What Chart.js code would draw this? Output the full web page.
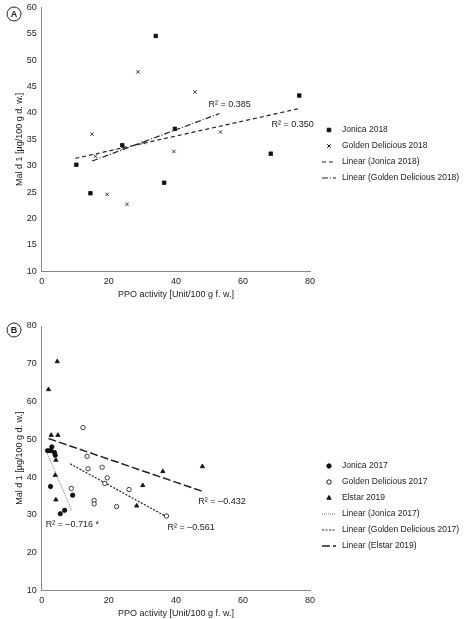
<!DOCTYPE html><html><head><meta charset="utf-8">
<script src="https://cdn.jsdelivr.net/npm/chart.js@4"></script>
<style>body{margin:0;background:#fff}div{position:absolute;left:0;width:474px}</style></head><body>
<div id="wa" style="top:0;height:300px"><canvas id="ca"></canvas></div>
<div id="wb" style="top:300px;height:319px"><canvas id="cb"></canvas></div>
<script>
const jonica2018=[[10.3,30.2],[14.5,24.8],[24,33.9],[34,54.6],[36.5,26.8],[39.7,37],[68.3,32.3],[76.8,43.3]];
const golden2018=[[15,36],[16,31.8],[19.5,24.6],[24.2,33.3],[25.4,22.7],[28.7,47.8],[30.3,34.4],[39.4,32.7],[45.7,44],[53.3,36.4]];
const jonica2018Fit=[[10,31.4],[76.5,40.8]];
const golden2018Fit=[[15,30.9],[53,39.9]];
const jonica2017=[[1.7,47],[2.5,47],[2.6,37.5],[3,48],[3.8,46.5],[4,45.8],[5.5,30.3],[6.8,31.2],[9.2,35.2]];
const golden2017=[[8.8,37],[12.3,53.1],[13.5,45.5],[13.8,42.2],[15.6,33.8],[15.6,32.9],[18,42.6],[18.8,38.3],[19.5,39.8],[22.3,32.2],[26,36.7],[37.2,29.7]];
const elstar2019=[[2,63.2],[2.8,51.1],[4.6,70.6],[4.8,51.1],[4.2,44.5],[4,40.5],[4.2,34],[3,47],[28.3,32.4],[30.1,37.8],[36.1,41.5],[47.9,42.8]];
const jonica2017Fit=[[1.5,46.5],[9,31]];
const golden2017Fit=[[8.5,43.5],[37,29.6]];
const elstar2019Fit=[[2,50.2],[48,36.2]];
const xTicks=[0,20,40,60,80];
const FONT='"Liberation Sans", Arial, sans-serif';
const pts=a=>a.map(p=>({x:p[0],y:p[1]}));
function sc(label,data,style,fill,r){return {type:'scatter',label,data:pts(data),pointStyle:style,pointRadius:r,backgroundColor:fill,borderColor:'#111',borderWidth:0.8,showLine:false};}
function ln(label,data,dash,w,col){return {type:'line',label,data:pts(data),borderColor:col||'#222',borderWidth:w||1.2,borderDash:dash,pointRadius:0,showLine:true,fill:false,isLine:true};}
const annot={id:'annot',afterDraw(c){const o=c.options.plugins.annot;const ctx=c.ctx;ctx.save();ctx.fillStyle='#222';ctx.font='9px '+FONT;ctx.textBaseline='middle';
 o.texts.forEach(t=>{ctx.fillText(t[2],c.scales.x.getPixelForValue(t[0]),c.scales.y.getPixelForValue(t[1]));});
 ctx.beginPath();ctx.arc(14,o.ly,7,0,7);ctx.lineWidth=1;ctx.strokeStyle='#222';ctx.stroke();ctx.font='bold 9px '+FONT;ctx.textAlign='center';ctx.fillText(o.letter,14,o.ly+0.5);
 ctx.textAlign='left';ctx.font='8.5px '+FONT;let y=o.legY;
 c.data.datasets.forEach(d=>{const x0=325;
  if(d.isLine){ctx.beginPath();ctx.setLineDash(d.borderDash||[]);ctx.lineWidth=d.borderWidth;ctx.strokeStyle=d.borderColor;ctx.moveTo(x0-3,y);ctx.lineTo(x0+11,y);ctx.stroke();ctx.setLineDash([]);}
  else{ctx.fillStyle=d.backgroundColor;ctx.strokeStyle='#111';Chart.helpers.drawPoint(ctx,{pointStyle:d.pointStyle,radius:d.pointRadius,borderWidth:d.borderWidth},x0+4,y);}
  ctx.fillStyle='#222';ctx.fillText(d.label,x0+17,y);y+=o.legStep;});
 ctx.restore();}};
function make(id,datasets,ymin,ymax,step,opt){
 return new Chart(document.getElementById(id),{data:{datasets},plugins:[annot],options:{responsive:true,maintainAspectRatio:false,animation:false,
  layout:{padding:{left:14,right:164,top:opt.top,bottom:opt.bottom}},
  plugins:{legend:{display:false},tooltip:{enabled:false},annot:opt},
  scales:{x:{type:'linear',min:0,max:80,afterBuildTicks:a=>{a.ticks=xTicks.map(v=>({value:v}))},grid:{display:false,tickLength:3},border:{color:'#888'},ticks:{color:'#222',font:{size:9,family:FONT},padding:2},title:{display:true,text:'PPO activity [Unit/100 g f. w.]',color:'#222',font:{size:9,family:FONT},padding:{top:0,bottom:0}}},
   y:{min:ymin,max:ymax,ticks:{stepSize:step,color:'#222',font:{size:9,family:FONT},padding:2},grid:{display:false,tickLength:3},border:{color:'#888'},title:{display:true,text:'Mal d 1 [µg/100 g d. w.]',color:'#222',font:{size:9,family:FONT},padding:0}}}}});}
make('ca',[sc('Jonica 2018',jonica2018,'rect','#111',2.5),sc('Golden Delicious 2018',golden2018,'crossRot','#111',2.5),
 ln('Linear (Jonica 2018)',jonica2018Fit,[4,3]),ln('Linear (Golden Delicious 2018)',golden2018Fit,[6,2,1,2])],10,60,5,
 {top:6,bottom:0,ly:14,letter:'A',legY:130,legStep:16,texts:[[49.7,41.7,'R² = 0.385'],[68.5,37.9,'R² = 0.350']]});
make('cb',[sc('Jonica 2017',jonica2017,'circle','#111',2.2),sc('Golden Delicious 2017',golden2017,'circle','#fff',2.2),sc('Elstar 2019',elstar2019,'triangle','#111',2.5),
 ln('Linear (Jonica 2017)',jonica2017Fit,[1,1],1,'#777'),ln('Linear (Golden Delicious 2017)',golden2017Fit,[2,1.5]),ln('Linear (Elstar 2019)',elstar2019Fit,[8,3],1.5)],10,80,10,
 {top:26,bottom:0,ly:30,letter:'B',legY:166,legStep:16,texts:[[1.2,27.5,'R² = –0.716 *'],[37.5,26.7,'R² = –0.561'],[46.7,33.4,'R² = –0.432']]});
</script></body></html>
